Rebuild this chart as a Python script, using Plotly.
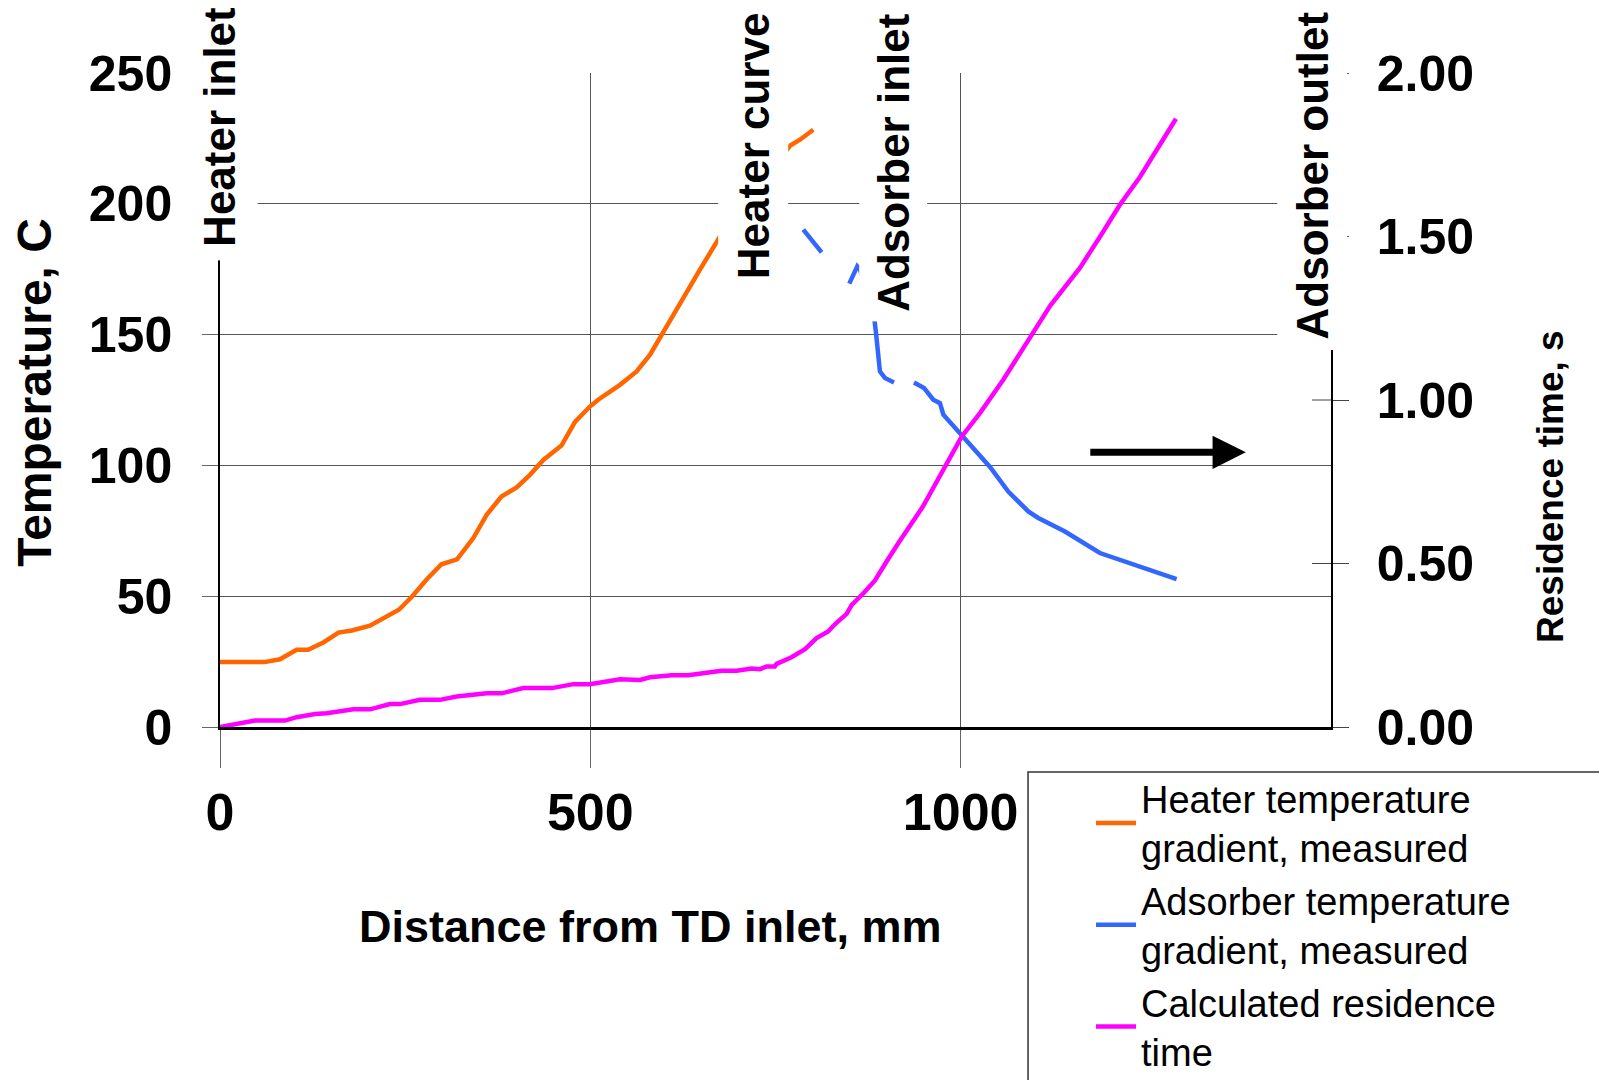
import plotly.graph_objects as go

# Heater temperature gradient, measured (distance mm, temperature C)
heater_x = [0, 60, 81, 103.5, 119, 139.5, 160, 178, 202.5, 221, 241.5, 259, 279, 299, 320,
            342, 360, 380, 400.5, 418.5, 436.5, 461, 479.3, 499.5, 510.6, 540, 562.5, 580.6,
            598.6, 621, 648, 675, 770, 783, 801]
heater_t = [24.8, 24.8, 25.9, 29.5, 29.5, 32.3, 36.1, 36.9, 38.7, 41.4, 44.8, 49.8, 56.4, 62.2, 64.1,
            72.2, 81.1, 88.1, 91.6, 96.4, 102.1, 107.6, 116.6, 122.5, 125.1, 130.8, 135.9, 142.3,
            151.2, 162, 174.8, 187.5, 222.3, 224.5, 228.3]

# Adsorber temperature gradient, measured (None = missing reading)
adsorber_x = [787.5, 812.3, None, 849.6, 855, 860.4, 864, 883, 885.7, 887.4, 891, 897.8, 910, None,
              937, 950.5, 963, 972, 976.6, 999, 1026, 1039.6, 1064.3, 1091.3, 1104.8, 1140.8,
              1188, 1242, 1291.6]
adsorber_t = [190.1, 181.4, None, 169.5, 172.9, 176.1, 174.9, 157, 150.6, 144.2, 135.9, 133.4, 131.7, None,
              131.7, 129.6, 125.1, 123.8, 119.4, 112.4, 104.1, 99.4, 90, 82.4, 79.9, 74.7,
              66.5, 61.1, 56.5]

# Calculated residence time (distance mm, seconds)
residence_x = [0, 27, 47.3, 87.8, 103.5, 128.3, 144, 180, 202.5, 229.5, 243, 270, 297, 319.5, 360,
               380.3, 409.5, 448, 477, 499.5, 540, 567, 580.6, 609.8, 632, 677, 697.5, 717.7, 729,
               738, 749, 751.5, 771.6, 789.8, 805.5, 821, 830.5, 846, 853, 868.7, 884.3, 900, 915.7,
               949, 972, 990, 1001.3, 1026, 1057.5, 1121, 1161, 1190, 1215, 1242, 1267, 1290.7]
residence_s = [0, 0.0095, 0.0196, 0.0196, 0.030, 0.040, 0.042, 0.054, 0.054, 0.070, 0.070, 0.083, 0.083,
               0.093, 0.103, 0.103, 0.119, 0.119, 0.131, 0.131, 0.146, 0.144, 0.152, 0.158, 0.158, 0.172,
               0.172, 0.179, 0.177, 0.185, 0.185, 0.193, 0.2135, 0.238, 0.2717, 0.292, 0.315, 0.346,
               0.3736, 0.409, 0.448, 0.506, 0.562, 0.674, 0.771, 0.8426, 0.888, 0.96, 1.062, 1.289,
               1.404, 1.506, 1.597, 1.682, 1.771, 1.860]

x_ticks = [0, 500, 1000]
temp_ticks = [0, 50, 100, 150, 200, 250]
time_ticks = [0, 0.5, 1.0, 1.5, 2.0]

# Location markers along the tube: (text, paper x, paper y of label centre, box padding)
markers = [("Heater inlet", 0.0, 0.9176, 13), ("Heater curve", 0.4797, 0.8895, 10),
           ("Adsorber inlet", 0.6060, 0.8630, 9), ("Adsorber outlet", 0.9830, 0.8435, 10)]

ORANGE, BLUE, MAGENTA = "#FF6600", "#3366FF", "#FF00FF"
SANS = "Liberation Sans"

fig = go.Figure()
fig.add_trace(go.Scatter(x=heater_x, y=heater_t, mode="lines",
                         name="Heater temperature<br>gradient, measured",
                         line=dict(color=ORANGE, width=4.5)))
fig.add_trace(go.Scatter(x=adsorber_x, y=adsorber_t, mode="lines", connectgaps=False,
                         name="Adsorber temperature<br>gradient, measured",
                         line=dict(color=BLUE, width=4.5)))
fig.add_trace(go.Scatter(x=residence_x, y=residence_s, mode="lines", yaxis="y2",
                         name="Calculated residence<br>time",
                         line=dict(color=MAGENTA, width=4.5)))

grid = "#555555"
fig.update_layout(
    width=1599, height=1080,
    margin=dict(l=220, r=268, t=73, b=353, autoexpand=False),
    paper_bgcolor="white", plot_bgcolor="white",
    showlegend=True,
    xaxis=dict(range=[0, 1500], tickvals=x_ticks, ticks="outside", ticklen=38, tickcolor="#666666",
               tickwidth=1, showgrid=True, gridcolor=grid, gridwidth=1, zeroline=False,
               showline=True, linecolor="black", linewidth=3, ticklabelstandoff=0,
               tickfont=dict(family=SANS, size=52, color="black", weight="bold")),
    yaxis=dict(range=[0, 250], tickvals=temp_ticks, ticks="outside", ticklen=16, tickcolor="#666666",
               tickwidth=1, showgrid=True, gridcolor=grid, gridwidth=1, zeroline=False,
               showline=True, linecolor="black", linewidth=1.5, ticklabelstandoff=20,
               tickfont=dict(family=SANS, size=50, color="black", weight="bold")),
    yaxis2=dict(range=[0, 2], tickvals=time_ticks, tickformat=".2f", overlaying="y", side="right",
                ticks="outside", ticklen=16, tickcolor="#444444", tickwidth=1, showgrid=False,
                zeroline=False, showline=True, linecolor="black", linewidth=1.5,
                ticklabelstandoff=18,
                tickfont=dict(family=SANS, size=50, color="black", weight="bold")),
    legend=dict(x=0.784, y=-0.0612, xanchor="left", yanchor="top", bgcolor="rgba(0,0,0,0)",
                borderwidth=0, itemwidth=40, tracegroupgap=0,
                font=dict(family=SANS, size=38, color="black")),
)

# Legend frame, open at the bottom edge of the page
fig.add_shape(type="rect", xref="paper", yref="paper", x0=0.7273, x1=1.3, y0=-0.7, y1=-0.0688,
              line=dict(color="#333333", width=1.5), fillcolor="white", layer="above")

# Cross ticks on the residence-time axis
for v in time_ticks[1:3]:
    fig.add_shape(type="line", xref="paper", yref="y2", x0=1 - 19 / 1111, x1=1, y0=v, y1=v,
                  line=dict(color="#444444", width=1))

for text, xp, yp, pad in markers:
    fig.add_annotation(text=text, xref="paper", yref="paper", x=xp, y=yp, showarrow=False,
                       textangle=-90, bgcolor="white", borderpad=pad, xanchor="center",
                       yanchor="middle", font=dict(family=SANS, size=44, color="black", weight="bold"))

# Axis titles
fig.add_annotation(text="Temperature, C", xref="paper", yref="paper", x=-0.1665, y=0.5113,
                   xanchor="center", yanchor="middle", showarrow=False, textangle=-90,
                   font=dict(family=SANS, size=48, color="black", weight="bold"))
fig.add_annotation(text="<b>Residence time, s</b>", xref="paper", yref="paper", x=1.1971, y=0.3685,
                   xanchor="center", yanchor="middle", showarrow=False, textangle=-90,
                   font=dict(family=SANS, size=37, color="black", weight="bold"))
fig.add_annotation(text="Distance from TD inlet, mm", xref="paper", yref="paper", x=0.3879, y=-0.3043,
                   xanchor="center", yanchor="middle", showarrow=False,
                   font=dict(family=SANS, size=45, color="black", weight="bold"))

# Arrow pointing to the residence-time axis
fig.add_annotation(text="", x=1385, y=105, xref="x", yref="y", ax=1173, ay=105, axref="x", ayref="y",
                   showarrow=True, arrowhead=2, arrowwidth=7, arrowsize=0.95, arrowcolor="black",
                   standoff=0)

fig.write_html("out.html")
